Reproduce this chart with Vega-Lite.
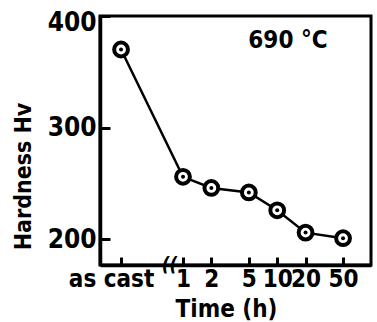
{
  "$schema": "https://vega.github.io/schema/vega-lite/v6.json",
  "autosize": "none",
  "width": 271,
  "height": 249,
  "padding": {"left": 100, "top": 16, "right": 6, "bottom": 57},
  "background": "white",
  "config": {
    "view": {"stroke": "black", "strokeWidth": 3},
    "font": "DejaVu Sans Condensed",
    "axis": {
      "domainColor": "black", "domainWidth": 3.5,
      "ticks": true, "tickColor": "black", "tickWidth": 3,
      "labelColor": "black", "titleColor": "black",
      "labelFont": "DejaVu Sans Condensed", "titleFont": "DejaVu Sans Condensed",
      "grid": false
    }
  },
  "datasets": {
    "hardness": [
      {"time": 0.22, "condition": "as cast", "hv": 370},
      {"time": 1, "condition": "1 h", "hv": 256},
      {"time": 2, "condition": "2 h", "hv": 246},
      {"time": 5, "condition": "5 h", "hv": 242},
      {"time": 10, "condition": "10 h", "hv": 226},
      {"time": 20, "condition": "20 h", "hv": 206},
      {"time": 50, "condition": "50 h", "hv": 201}
    ]
  },
  "layer": [
    {
      "data": {"name": "hardness"},
      "mark": {"type": "line", "color": "black", "strokeWidth": 2.5},
      "encoding": {
        "x": {
          "field": "time", "type": "quantitative",
          "scale": {"type": "log", "domain": [0.1315, 99], "nice": false},
          "axis": {
            "title": "Time (h)", "titleFontSize": 24, "titleFontWeight": "bold",
            "titleX": 126, "titleY": 32, "titleBaseline": "top", "titleAlign": "center",
            "values": [0.22, 1, 2, 5, 10, 20, 50],
            "labelExpr": "datum.value < 0.5 ? 'as cast' : format(datum.value, 'd')",
            "labelFontSize": 24, "labelFontWeight": "bold", "labelOverlap": false, "labelFlush": false,
            "labelOffset": {"condition": {"test": "datum.value < 0.5", "value": -10}, "value": 0},
            "tickSize": -8, "labelPadding": 10
          }
        },
        "y": {
          "field": "hv", "type": "quantitative",
          "scale": {"domain": [177, 400], "nice": false, "zero": false},
          "axis": {
            "title": "Hardness  Hv", "titleFontSize": 23, "titleFontWeight": "bold",
            "titleX": -77, "titleY": 160, "titleAngle": -90, "titleAlign": "center", "titleBaseline": "middle",
            "values": [200, 300, 400],
            "labelFontSize": 26, "labelFontWeight": "bold", "labelFlush": false,
            "labelOffset": {"condition": {"test": "datum.value > 350", "value": 6}, "value": 0},
            "tickSize": -10, "labelPadding": 14
          }
        }
      }
    },
    {
      "data": {"name": "hardness"},
      "mark": {"type": "point", "filled": true, "fill": "white", "stroke": "black", "strokeWidth": 4, "size": 190, "opacity": 1},
      "encoding": {
        "x": {"field": "time", "type": "quantitative"},
        "y": {"field": "hv", "type": "quantitative"}
      }
    },
    {
      "data": {"name": "hardness"},
      "mark": {"type": "point", "filled": true, "color": "black", "size": 16, "opacity": 1},
      "encoding": {
        "x": {"field": "time", "type": "quantitative"},
        "y": {"field": "hv", "type": "quantitative"}
      }
    },
    {
      "data": {"values": [{"time": 13, "hv": 378, "note": "690 °C"}]},
      "mark": {"type": "text", "fontSize": 24, "fontWeight": "bold", "color": "black", "font": "DejaVu Sans Condensed"},
      "encoding": {
        "x": {"field": "time", "type": "quantitative"},
        "y": {"field": "hv", "type": "quantitative"},
        "text": {"field": "note"}
      }
    },
    {
      "data": {"values": [{"time": 0.72, "hv": 177, "note": "(("}]},
      "mark": {"type": "text", "fontSize": 19, "fontWeight": "bold", "fontStyle": "italic", "color": "black", "baseline": "middle"},
      "encoding": {
        "x": {"field": "time", "type": "quantitative"},
        "y": {"field": "hv", "type": "quantitative"},
        "text": {"field": "note"}
      }
    }
  ]
}
